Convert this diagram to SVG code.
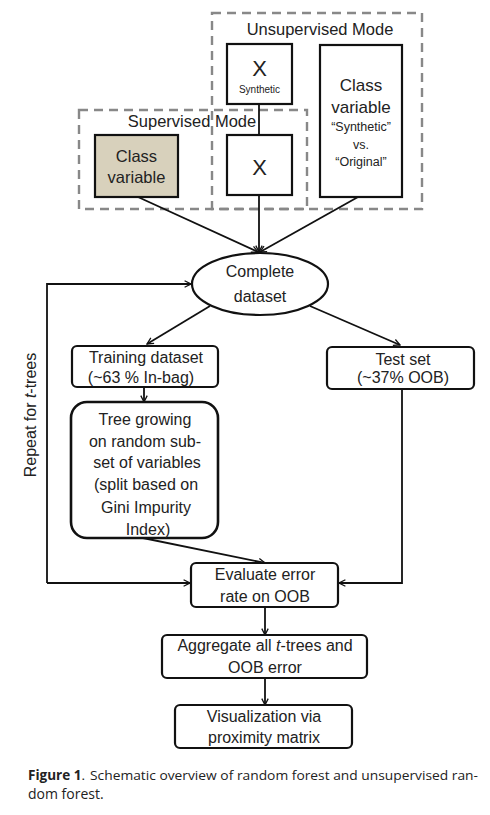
<svg xmlns="http://www.w3.org/2000/svg" width="490" height="815" viewBox="0 0 490 815" font-size="16">
<defs>
<marker id="arr" viewBox="0 0 10 10" refX="9" refY="5" markerWidth="8" markerHeight="8" markerUnits="userSpaceOnUse" orient="auto">
<path d="M1,1 L9,5 L1,9" fill="none" stroke="#111" stroke-width="1.6"/>
</marker>
<style>
.box{fill:#fff;stroke:#111;stroke-width:2.2}
.dash{fill:none;stroke:#888;stroke-width:2.4;stroke-dasharray:9,6}
.t{font-family:"Liberation Sans",Arial,sans-serif;fill:#222;text-anchor:middle}
.c{stroke:#111;stroke-width:1.8;fill:none}
.cap{font-family:"Open Sans","Noto Sans",sans-serif;fill:#222}
</style>
</defs>
<rect width="490" height="815" fill="#fff"/>

<g id="unsupervised">
<rect class="dash" x="212" y="13" width="210" height="196"/>
<text class="t" x="320" y="35" font-size="16.5">Unsupervised Mode</text>
</g>
<g id="supervised">
<rect class="dash" x="79" y="110" width="228" height="99"/>
<text class="t" x="192" y="127" font-size="16.5">Supervised Mode</text>
</g>

<g id="connectors">
<line class="c" x1="259" y1="104" x2="259" y2="135"/>
<line class="c" x1="138" y1="197" x2="258" y2="252" marker-end="url(#arr)"/>
<line class="c" x1="259" y1="195" x2="259" y2="252" marker-end="url(#arr)"/>
<line class="c" x1="358" y1="197" x2="260" y2="252" marker-end="url(#arr)"/>
<line class="c" x1="210" y1="306" x2="147" y2="344" marker-end="url(#arr)"/>
<line class="c" x1="310" y1="306" x2="400" y2="345" marker-end="url(#arr)"/>
<line class="c" x1="144" y1="387" x2="144" y2="402" marker-end="url(#arr)"/>
<line class="c" x1="143" y1="538" x2="265" y2="563" marker-end="url(#arr)"/>
<polyline class="c" points="402,389 402,583 339,583" marker-end="url(#arr)"/>
<polyline class="c" points="47,583 47,284 191,284" marker-end="url(#arr)"/>
<line class="c" x1="47" y1="583" x2="190" y2="583" marker-end="url(#arr)"/>
<line class="c" x1="265" y1="607" x2="265" y2="635" marker-end="url(#arr)"/>
<line class="c" x1="265" y1="678" x2="265" y2="705" marker-end="url(#arr)"/>
<text class="t" transform="translate(36,415) rotate(-90)">Repeat for <tspan font-style="italic">t</tspan>-trees</text>
</g>

<g id="xsynthetic">
<rect class="box" x="227" y="44" width="65" height="60"/>
<text class="t" x="259.5" y="76" font-size="22">X</text>
<text class="t" x="259.5" y="93" font-size="10">Synthetic</text>
</g>
<g id="classvar-unsup">
<rect class="box" x="320" y="45" width="82" height="152"/>
<text class="t" x="361" y="91" font-size="17">Class</text>
<text class="t" x="361" y="113" font-size="17">variable</text>
<text class="t" x="361" y="131" font-size="12.5">“Synthetic”</text>
<text class="t" x="361" y="149" font-size="12.5">vs.</text>
<text class="t" x="361" y="166" font-size="12.5">“Original”</text>
</g>
<g id="classvar-sup">
<rect class="box" x="95" y="135" width="83" height="62" style="fill:#d8d1bc"/>
<text class="t" x="136.5" y="162" font-size="16.5">Class</text>
<text class="t" x="136.5" y="183" font-size="16.5">variable</text>
</g>
<g id="x">
<rect class="box" x="227" y="135" width="65" height="60"/>
<text class="t" x="259.5" y="175" font-size="22">X</text>
</g>

<g id="complete">
<ellipse class="box" cx="260" cy="284" rx="68" ry="31"/>
<text class="t" x="260" y="277">Complete</text>
<text class="t" x="260" y="302">dataset</text>
</g>
<g id="training">
<rect class="box" x="72" y="346" width="146" height="41" rx="5"/>
<text class="t" x="146" y="363">Training dataset</text>
<text class="t" x="141" y="383">(~63 % In-bag)</text>
</g>
<g id="test">
<rect class="box" x="327" y="347" width="147" height="42" rx="5"/>
<text class="t" x="403" y="365">Test set</text>
<text class="t" x="403" y="383">(~37% OOB)</text>
</g>
<g id="tree">
<rect class="box" x="71" y="402" width="147" height="136" rx="16" style="stroke-width:2.6"/>
<text class="t" x="145" y="425">Tree growing</text>
<text class="t" x="145" y="447">on random sub-</text>
<text class="t" x="147" y="468">set of variables</text>
<text class="t" x="146" y="490">(split based on</text>
<text class="t" x="146" y="513">Gini Impurity</text>
<text class="t" x="148" y="535">Index)</text>
</g>
<g id="evaluate">
<rect class="box" x="191" y="563" width="147" height="44" rx="5"/>
<text class="t" x="265" y="580">Evaluate error</text>
<text class="t" x="265" y="602">rate on OOB</text>
</g>
<g id="aggregate">
<rect class="box" x="162" y="635" width="205" height="43" rx="5"/>
<text class="t" x="265" y="651">Aggregate all <tspan font-style="italic">t</tspan>-trees and</text>
<text class="t" x="265" y="673">OOB error</text>
</g>
<g id="visualization">
<rect class="box" x="175" y="705" width="177" height="43" rx="5"/>
<text class="t" x="264" y="722">Visualization via</text>
<text class="t" x="264" y="743">proximity matrix</text>
</g>

<g id="caption">
<text class="cap" x="28" y="780" font-size="13.5"><tspan font-weight="bold">Figure 1</tspan>.</text>
<text class="cap" x="90" y="780" font-size="13.5" textLength="388" lengthAdjust="spacingAndGlyphs">Schematic overview of random forest and unsupervised ran-</text>
<text class="cap" x="28" y="799" font-size="14">dom forest.</text>
</g>
</svg>
